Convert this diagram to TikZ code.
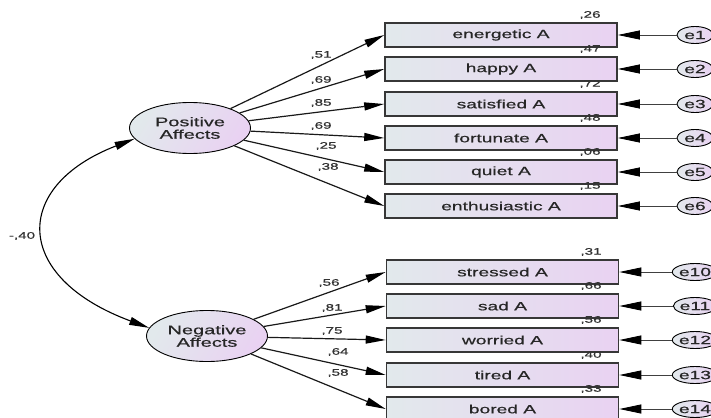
\documentclass[tikz,border=0pt]{standalone}
\usepackage{fontspec}
\setmainfont{Liberation Sans}[FakeStretch=1.6,FakeBold=0.6]
\usetikzlibrary{arrows.meta,shapes.geometric}
\definecolor{boxL}{RGB}{226,233,236}
\definecolor{boxR}{RGB}{233,210,242}
\definecolor{edgeC}{RGB}{55,55,55}
\tikzset{
  obs/.style={rectangle,draw=edgeC,line width=1.6pt,minimum width=232pt,minimum height=24pt,
    inner sep=0pt,left color=boxL,right color=boxR,font=\fontsize{12}{13}\selectfont,text=black!85},
  lat/.style={ellipse,draw=black,line width=0.9pt,minimum width=121pt,minimum height=51pt,
    inner sep=0pt,left color=boxL,right color=boxR,shading angle=60,align=center,
    font=\fontsize{12.5}{12.5}\selectfont,text=black!85},
  err/.style={ellipse,draw=black,line width=0.9pt,minimum width=36pt,minimum height=17pt,
    inner sep=0pt,left color=boxL,right color=boxR,font=\fontsize{12}{13}\selectfont,text=black!85},
  load/.style={line width=1.2pt,draw=black!90,-{Triangle[length=20pt,width=8pt,color=black]}},
  errarr/.style={line width=0.9pt,draw=black!75,-{Triangle[length=22pt,width=9pt,color=black]}},
  val/.style={font=\fontsize{9.5}{10}\selectfont,inner sep=0pt,text=black!80},
}
\begin{document}
\begin{tikzpicture}[x=1pt,y=-1pt]
\useasboundingbox (0,0) rectangle (711,417);
\clip (0,0) rectangle (711,417);
% latent variables
\node[lat] (pos) at (190,128) {Positive\\Affects};
\node[lat] (neg) at (207,336) {Negative\\Affects};
% observed boxes
\foreach \n/\y/\t in {b1/35/energetic A, b2/69/happy A, b3/104/satisfied A, b4/138/fortunate A, b5/172/quiet A, b6/206/enthusiastic A}
  \node[obs] (\n) at (501,\y) {\t};
\foreach \n/\y/\t in {b10/272/stressed A, b11/306/sad A, b12/340/worried A, b13/375/tired A, b14/409/bored A}
  \node[obs] (\n) at (502.5,\y) {\t};
% error terms
\foreach \n/\y/\t in {e1/35/e1, e2/69/e2, e3/104/e3, e4/138/e4, e5/172/e5, e6/206/e6, e10/272/e10, e11/306/e11, e12/340/e12, e13/375/e13, e14/409/e14}
  \node[err] (\n) at (695,\y) {\t};
% loadings
\foreach \b in {b1,b2,b3,b4,b5,b6}
  \draw[load] (pos) -- (\b.west);
\foreach \b in {b10,b11,b12,b13,b14}
  \draw[load] (neg) -- (\b.west);
% error arrows
\foreach \n in {1,2,3,4,5,6,10,11,12,13,14}
  \draw[errarr] (e\n) -- (b\n.east);
% covariance
\draw[line width=1.1pt,{Triangle[length=20pt,width=8pt]}-{Triangle[length=20pt,width=8pt]}]
  (pos.191) .. controls (12,186) and (12,277) .. (neg.172);
\node[val] (cov) at (22,236) {-,40};
% loading labels
\node[val] (l1) at (321,55) {,51};
\node[val] (l2) at (321,80) {,69};
\node[val] (l3) at (321,103) {,85};
\node[val] (l4) at (321,126) {,69};
\node[val] (l5) at (326,146) {,25};
\node[val] (l6) at (328,167) {,38};
\node[val] (l10) at (329,283) {,56};
\node[val] (l11) at (332,308) {,81};
\node[val] (l12) at (332,331) {,75};
\node[val] (l13) at (338,352) {,64};
\node[val] (l14) at (338,373) {,58};
% squared multiple correlations
\foreach \n/\y/\t in {r1/35/{,26}, r2/69/{,47}, r3/104/{,72}, r4/138/{,48}, r5/172/{,06}, r6/206/{,15}}
  \node[val] (\n) at (590,\y-20) {\t};
\foreach \n/\y/\t in {r10/272/{,31}, r11/306/{,66}, r12/340/{,56}, r13/375/{,40}, r14/409/{,33}}
  \node[val] (\n) at (591,\y-20) {\t};
\end{tikzpicture}
\end{document}
